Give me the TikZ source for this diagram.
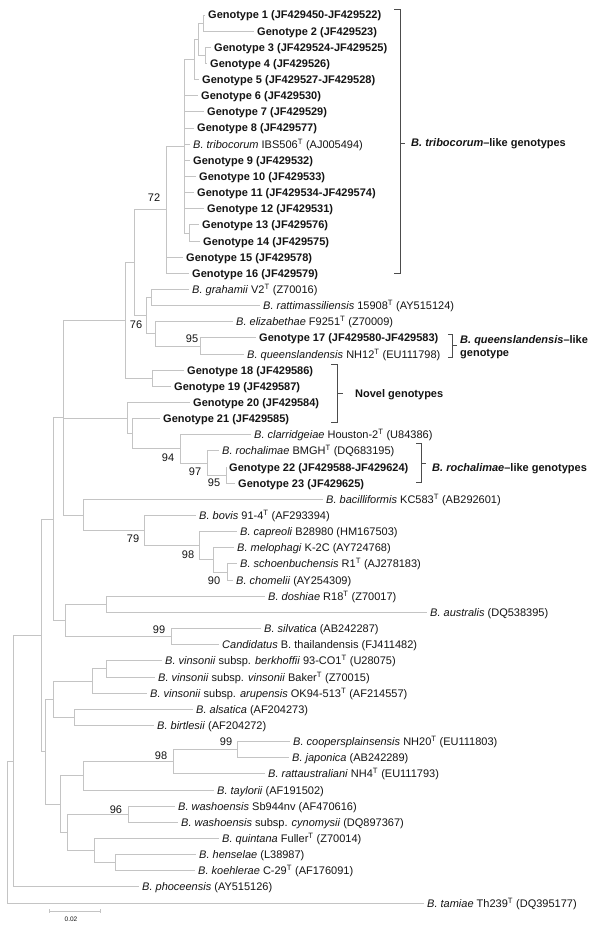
\documentclass[tikz,border=0pt]{standalone}
\usepackage{fontspec}
\setmainfont{Liberation Sans}
\newcommand{\Tsup}{\textsuperscript{T}}
\newcommand{\Geno}[1]{\textbf{Genotype #1}}
\definecolor{branch}{gray}{0.77}
\definecolor{bracketc}{gray}{0.30}
\definecolor{txt}{gray}{0.08}
\begin{document}
\begin{tikzpicture}[x=1pt,y=-1pt,
  br/.style={draw=branch, line width=0.9pt},
  bk/.style={draw=bracketc, line width=0.9pt},
  leaf/.style={anchor=west, inner xsep=3pt, inner ysep=0pt, text height=8pt, text depth=0pt, text=txt, font=\fontsize{11}{13}\selectfont},
  bs/.style={inner sep=0pt, text height=8pt, text depth=0pt, text=txt, font=\fontsize{11}{13}\selectfont},
  lab/.style={anchor=west, inner sep=0pt, text height=8pt, text depth=0pt, text=txt, font=\fontsize{11}{13}\selectfont\bfseries}]
\useasboundingbox[fill=white] (0,0) rectangle (600,928);

% ---------- leaves ----------
\node[leaf] (l0) at (205,15.0) {\Geno{1 (JF429450-JF429522)}};
\node[leaf] (l1) at (254,31.1) {\Geno{2 (JF429523)}};
\node[leaf] (l2) at (211,47.3) {\Geno{3 (JF429524-JF429525)}};
\node[leaf] (l3) at (207,63.4) {\Geno{4 (JF429526)}};
\node[leaf] (l4) at (199,79.6) {\Geno{5 (JF429527-JF429528)}};
\node[leaf] (l5) at (198,95.7) {\Geno{6 (JF429530)}};
\node[leaf] (l6) at (204,111.9) {\Geno{7 (JF429529)}};
\node[leaf] (l7) at (194,128.0) {\Geno{8 (JF429577)}};
\node[leaf] (l8) at (190,144.2) {\textit{B. tribocorum} IBS506\Tsup{} (AJ005494)};
\node[leaf] (l9) at (190,160.3) {\Geno{9 (JF429532)}};
\node[leaf] (l10) at (196,176.5) {\Geno{10 (JF429533)}};
\node[leaf] (l11) at (194,192.6) {\Geno{11 (JF429534-JF429574)}};
\node[leaf] (l12) at (204,208.7) {\Geno{12 (JF429531)}};
\node[leaf] (l13) at (199,224.9) {\Geno{13 (JF429576)}};
\node[leaf] (l14) at (200,241.0) {\Geno{14 (JF429575)}};
\node[leaf] (l15) at (183,257.2) {\Geno{15 (JF429578)}};
\node[leaf] (l16) at (189,273.3) {\Geno{16 (JF429579)}};
\node[leaf] (l17) at (189,289.5) {\textit{B. grahamii} V2\Tsup{} (Z70016)};
\node[leaf] (l18) at (260,305.6) {\textit{B. rattimassiliensis} 15908\Tsup{} (AY515124)};
\node[leaf] (l19) at (233,321.8) {\textit{B. elizabethae} F9251\Tsup{} (Z70009)};
\node[leaf] (l20) at (256,337.9) {\Geno{17 (JF429580-JF429583)}};
\node[leaf] (l21) at (244,354.0) {\textit{B. queenslandensis} NH12\Tsup{} (EU111798)};
\node[leaf] (l22) at (184,370.2) {\Geno{18 (JF429586)}};
\node[leaf] (l23) at (171,386.3) {\Geno{19 (JF429587)}};
\node[leaf] (l24) at (190,402.5) {\Geno{20 (JF429584)}};
\node[leaf] (l25) at (160,418.6) {\Geno{21 (JF429585)}};
\node[leaf] (l26) at (251,434.8) {\textit{B. clarridgeiae} Houston-2\Tsup{} (U84386)};
\node[leaf] (l27) at (219,450.9) {\textit{B. rochalimae} BMGH\Tsup{} (DQ683195)};
\node[leaf] (l28) at (226,467.1) {\Geno{22 (JF429588-JF429624)}};
\node[leaf] (l29) at (235,483.2) {\Geno{23 (JF429625)}};
\node[leaf] (l30) at (323,499.4) {\textit{B. bacilliformis} KC583\Tsup{} (AB292601)};
\node[leaf] (l31) at (196,515.5) {\textit{B. bovis} 91-4\Tsup{} (AF293394)};
\node[leaf] (l32) at (237,531.6) {\textit{B. capreoli} B28980 (HM167503)};
\node[leaf] (l33) at (234,547.8) {\textit{B. melophagi} K-2C (AY724768)};
\node[leaf] (l34) at (237,563.9) {\textit{B. schoenbuchensis} R1\Tsup{} (AJ278183)};
\node[leaf] (l35) at (233,580.1) {\textit{B. chomelii} (AY254309)};
\node[leaf] (l36) at (265,596.2) {\textit{B. doshiae} R18\Tsup{} (Z70017)};
\node[leaf] (l37) at (427,612.4) {\textit{B. australis} (DQ538395)};
\node[leaf] (l38) at (261,628.5) {\textit{B. silvatica} (AB242287)};
\node[leaf] (l39) at (219,644.7) {\textit{Candidatus} B. thailandensis (FJ411482)};
\node[leaf] (l40) at (162,660.8) {\textit{B. vinsonii} subsp. \textit{berkhoffii} 93-CO1\Tsup{} (U28075)};
\node[leaf] (l41) at (155,677.0) {\textit{B. vinsonii} subsp. \textit{vinsonii} Baker\Tsup{} (Z70015)};
\node[leaf] (l42) at (147,693.1) {\textit{B. vinsonii} subsp. \textit{arupensis} OK94-513\Tsup{} (AF214557)};
\node[leaf] (l43) at (193,709.2) {\textit{B. alsatica} (AF204273)};
\node[leaf] (l44) at (154,725.4) {\textit{B. birtlesii} (AF204272)};
\node[leaf] (l45) at (290,741.5) {\textit{B. coopersplainsensis} NH20\Tsup{} (EU111803)};
\node[leaf] (l46) at (289,757.7) {\textit{B. japonica} (AB242289)};
\node[leaf] (l47) at (265,773.8) {\textit{B. rattaustraliani} NH4\Tsup{} (EU111793)};
\node[leaf] (l48) at (214,790.0) {\textit{B. taylorii} (AF191502)};
\node[leaf] (l49) at (175,806.1) {\textit{B. washoensis} Sb944nv (AF470616)};
\node[leaf] (l50) at (178,822.3) {\textit{B. washoensis} subsp. \textit{cynomysii} (DQ897367)};
\node[leaf] (l51) at (219,838.4) {\textit{B. quintana} Fuller\Tsup{} (Z70014)};
\node[leaf] (l52) at (196,854.6) {\textit{B. henselae} (L38987)};
\node[leaf] (l53) at (195,870.7) {\textit{B. koehlerae} C-29\Tsup{} (AF176091)};
\node[leaf] (l54) at (139,886.9) {\textit{B. phoceensis} (AY515126)};
\node[leaf] (l55) at (424,903.0) {\textit{B. tamiae} Th239\Tsup{} (DQ395177)};

% ---------- internal nodes ----------
\coordinate (nG12) at (203,23.05);
\coordinate (nG34) at (205,55.35);
\coordinate (nG14) at (198,39.2);
\coordinate (nG15) at (194,59.4);
\coordinate (nG1314) at (189,232.95);
\coordinate (nTri) at (184,146.2);
\coordinate (n72) at (166,209.75);
\coordinate (ngr) at (151,297.55);
\coordinate (n95a) at (200,345.95);
\coordinate (neliz) at (155,333.9);
\coordinate (n76) at (146,315.7);
\coordinate (n134) at (134,262.7);
\coordinate (n1819) at (152,378.25);
\coordinate (n125) at (125,320.5);
\coordinate (n225) at (226,475.15);
\coordinate (n97) at (207,463.0);
\coordinate (n94) at (180,448.9);
\coordinate (n132) at (132,433.75);
\coordinate (n127) at (127,418.1);
\coordinate (n227) at (227,572.0);
\coordinate (n213) at (213,559.9);
\coordinate (n98a) at (199,545.75);
\coordinate (n79) at (144,530.6);
\coordinate (n83) at (83,515.0);
\coordinate (n63) at (63,417.75);
\coordinate (ndosh) at (106,604.3);
\coordinate (n99a) at (171,636.6);
\coordinate (n65) at (65,620.45);
\coordinate (n53) at (53,519.1);
\coordinate (nberk) at (106,668.9);
\coordinate (nvins) at (92,681.0);
\coordinate (nals) at (74,717.3);
\coordinate (n53b) at (53,699.15);
\coordinate (n99b) at (237,749.6);
\coordinate (n98b) at (173,761.7);
\coordinate (n83b) at (83,775.85);
\coordinate (n96) at (128,814.2);
\coordinate (nhen) at (115,862.65);
\coordinate (nquin) at (94,850.5);
\coordinate (n67) at (67,832.35);
\coordinate (n60) at (60,804.1);
\coordinate (n45) at (45,751.6);
\coordinate (n41) at (41,635.35);
\coordinate (n13) at (13,761.1);
\coordinate (root) at (7,832.0);

% ---------- branches: internal to leaf ----------
\foreach \p/\c in {nG12/l0,nG12/l1,nG34/l2,nG34/l3,nG15/l4,
  nTri/l5,nTri/l6,nTri/l7,nTri/l8,nTri/l9,nTri/l10,nTri/l11,nTri/l12,
  nG1314/l13,nG1314/l14,n72/l15,n72/l16,ngr/l17,ngr/l18,neliz/l19,
  n95a/l20,n95a/l21,n1819/l22,n1819/l23,n127/l24,n132/l25,n94/l26,
  n97/l27,n225/l28,n225/l29,n83/l30,n79/l31,n98a/l32,n213/l33,
  n227/l34,n227/l35,ndosh/l36,ndosh/l37,n99a/l38,n99a/l39,
  nberk/l40,nberk/l41,nvins/l42,nals/l43,nals/l44,n99b/l45,n99b/l46,
  n98b/l47,n83b/l48,n96/l49,n96/l50,nquin/l51,nhen/l52,nhen/l53,
  n13/l54,root/l55}
  \draw[br] (\p) |- (\c.west);

% ---------- branches: internal to internal ----------
\foreach \p/\c in {nG14/nG12,nG14/nG34,nG15/nG14,nTri/nG15,nTri/nG1314,
  n72/nTri,neliz/n95a,n76/ngr,n76/neliz,n134/n72,n134/n76,
  n125/n134,n125/n1819,n97/n225,n94/n97,n132/n94,n127/n132,
  n213/n227,n98a/n213,n79/n98a,n83/n79,n63/n125,n63/n127,n63/n83,
  n65/ndosh,n65/n99a,n53/n63,n53/n65,nvins/nberk,n53b/nvins,n53b/nals,
  n98b/n99b,n83b/n98b,nquin/nhen,n67/n96,n67/nquin,n60/n83b,n60/n67,
  n45/n53b,n45/n60,n41/n53,n41/n45,n13/n41,root/n13}
  \draw[br] (\p) |- (\c);

% ---------- bootstrap values ----------
\node[bs] (b72) at (154,197) {72};
\node[bs] (b76) at (136,324) {76};
\node[bs] (b95a) at (192,338) {95};
\node[bs] (b94) at (168,457) {94};
\node[bs] (b97) at (195,471) {97};
\node[bs] (b95b) at (214,482) {95};
\node[bs] (b79) at (133,538) {79};
\node[bs] (b98a) at (188,554) {98};
\node[bs] (b90) at (214,580) {90};
\node[bs] (b99a) at (159,629) {99};
\node[bs] (b99b) at (226,741) {99};
\node[bs] (b98b) at (161,755) {98};
\node[bs] (b96) at (116,809) {96};

% ---------- brackets ----------
\coordinate (tbA) at (394,9); \coordinate (tbB) at (400,9);
\coordinate (tbC) at (400,273); \coordinate (tbD) at (394,273);
\coordinate (tbM) at (400,143); \coordinate (tbN) at (405,143);
\draw[bk] (tbA) -- (tbB) -- (tbC) -- (tbD);
\draw[bk] (tbM) -- (tbN);
\node[lab] (tbL) at (411,143) {\textit{B. tribocorum}–like genotypes};

\coordinate (qA) at (448,334); \coordinate (qB) at (452,334);
\coordinate (qC) at (452,357); \coordinate (qD) at (448,357);
\coordinate (qM) at (452,345.5); \coordinate (qN) at (457,345.5);
\draw[bk] (qA) -- (qB) -- (qC) -- (qD);
\draw[bk] (qM) -- (qN);
\node[lab] (qL1) at (460,339) {\textit{B. queenslandensis}–like};
\node[lab] (qL2) at (460,352) {genotype};

\coordinate (nvA) at (331,364); \coordinate (nvB) at (337,364);
\coordinate (nvC) at (337,422); \coordinate (nvD) at (331,422);
\coordinate (nvM) at (337,393); \coordinate (nvN) at (343,393);
\draw[bk] (nvA) -- (nvB) -- (nvC) -- (nvD);
\draw[bk] (nvM) -- (nvN);
\node[lab] (nvL) at (355,393) {Novel genotypes};

\coordinate (rA) at (416,443); \coordinate (rB) at (421,443);
\coordinate (rC) at (421,482); \coordinate (rD) at (416,482);
\coordinate (rM) at (421,463); \coordinate (rN) at (426,463);
\draw[bk] (rA) -- (rB) -- (rC) -- (rD);
\draw[bk] (rM) -- (rN);
\node[lab] (rL) at (432,467) {\textit{B. rochalimae}–like genotypes};

% ---------- scale bar ----------
\coordinate (sb1) at (49,911); \coordinate (sb2) at (100,911);
\draw[br] (sb1) -- (sb2);
\draw[br] ([yshift=2pt]sb1) -- ([yshift=-2pt]sb1);
\draw[br] ([yshift=2pt]sb2) -- ([yshift=-2pt]sb2);
\node[inner sep=0pt, text=txt, font=\fontsize{6.5}{8}\selectfont] (sbL) at (71,919) {0.02};
\end{tikzpicture}
\end{document}
